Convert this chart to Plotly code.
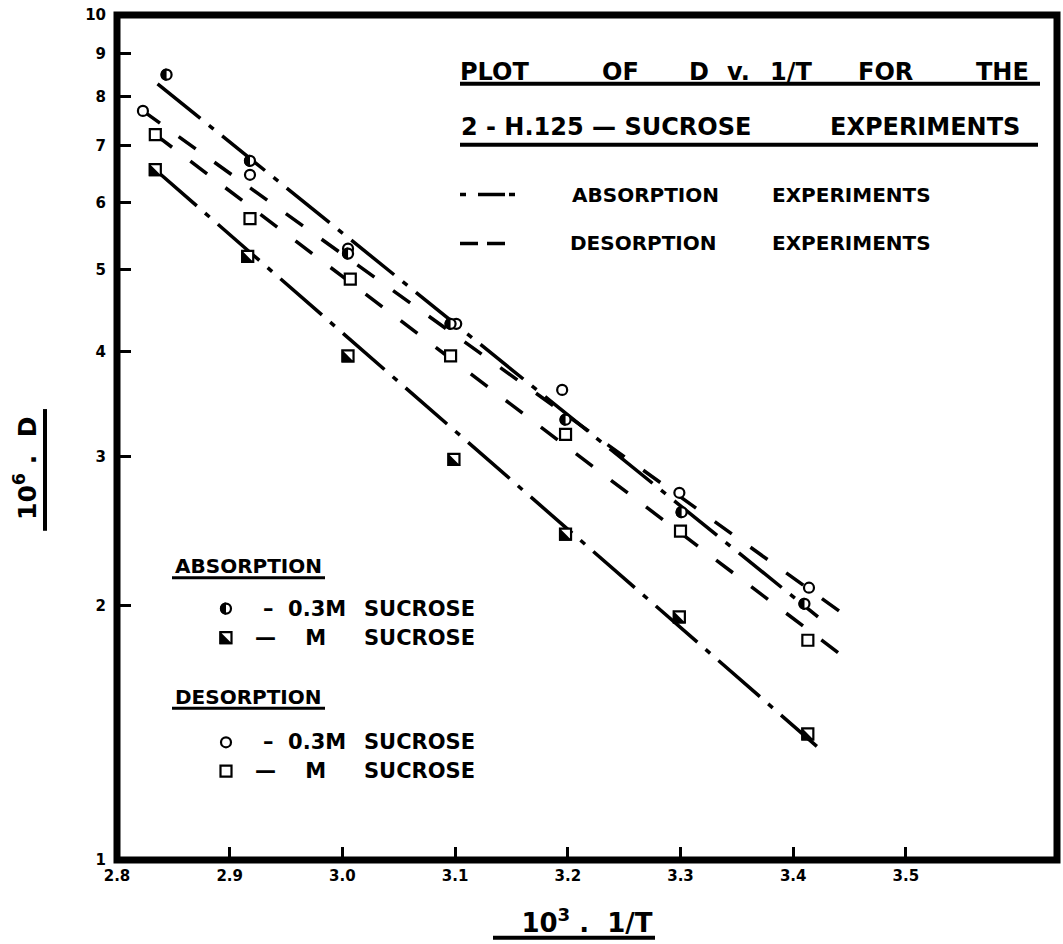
import plotly.graph_objects as go

# ---- measured values: x = 10^3 / T, y = 10^6 * D -------------------------
abs_03m_t = [2.844, 2.918, 3.005, 3.096, 3.198, 3.301, 3.410]
abs_03m_d = [8.50, 6.72, 5.22, 4.31, 3.32, 2.58, 2.01]

abs_1m_t = [2.834, 2.916, 3.005, 3.099, 3.198, 3.299, 3.413]
abs_1m_d = [6.56, 5.18, 3.95, 2.98, 2.43, 1.94, 1.41]

des_03m_t = [2.823, 2.918, 3.005, 3.101, 3.195, 3.299, 3.414]
des_03m_d = [7.70, 6.47, 5.29, 4.31, 3.60, 2.72, 2.10]

des_1m_t = [2.834, 2.918, 3.007, 3.096, 3.198, 3.300, 3.413]
des_1m_d = [7.22, 5.74, 4.87, 3.95, 3.19, 2.45, 1.82]

# ---- fitted straight lines (end points) ---------------------------------
fit_abs_03m_t = [2.836, 3.422]
fit_abs_03m_d = [8.29, 1.94]
fit_abs_1m_t = [2.834, 3.421]
fit_abs_1m_d = [6.56, 1.363]
fit_des_03m_t = [2.823, 3.448]
fit_des_03m_d = [7.70, 1.94]
fit_des_1m_t = [2.834, 3.441]
fit_des_1m_d = [7.22, 1.755]

# ---- axis ticks ----------------------------------------------------------
x_tick_vals = [2.8, 2.9, 3.0, 3.1, 3.2, 3.3, 3.4, 3.5]
x_tick_text = ["2.8", "2.9", "3.0", "3.1", "3.2", "3.3", "3.4", "3.5"]
y_tick_vals = [1, 2, 3, 4, 5, 6, 7, 8, 9, 10]
y_tick_text = ["1", "2", "3", "4", "5", "6", "7", "8", "9", "10"]

W, H = 1063, 944
L, R, T, B = 117, 1057, 13, 860
FONT = "DejaVu Sans"
INK = "black"

ABS_DASH = "55px,11px,6px,11px"
DES_DASH = "21px,23px"


def px(x):
    return (x - L) / (R - L)


def py(y):
    return (B - y) / (B - T)


def half_circle_path(r):
    k = 0.5523 * r
    return (f"M0,{r} C{-k},{r} {-r},{k} {-r},0 "
            f"C{-r},{-k} {-k},{-r} 0,{-r} Z")


def half_square_path(s):
    return f"M{-s},{s} L{-s},{-s} L{s},{-s} Z"


fig = go.Figure()

# fitted lines
for t, d, dash in [
    (fit_abs_03m_t, fit_abs_03m_d, ABS_DASH),
    (fit_abs_1m_t, fit_abs_1m_d, ABS_DASH),
    (fit_des_03m_t, fit_des_03m_d, DES_DASH),
    (fit_des_1m_t, fit_des_1m_d, DES_DASH),
]:
    fig.add_trace(go.Scatter(
        x=t, y=d, mode="lines",
        line=dict(color=INK, width=3.5, dash=dash),
        hoverinfo="skip", showlegend=False,
    ))

# point markers
for t, d, sym, size in [
    (des_03m_t, des_03m_d, "circle", 10),
    (abs_03m_t, abs_03m_d, "circle", 10),
    (des_1m_t, des_1m_d, "square", 11),
    (abs_1m_t, abs_1m_d, "square", 11),
]:
    fig.add_trace(go.Scatter(
        x=t, y=d, mode="markers",
        marker=dict(symbol=sym, size=size, color="white",
                    line=dict(color=INK, width=2.2)),
        showlegend=False,
    ))

shapes = []
# filled halves of the absorption markers
for t, d in zip(abs_03m_t, abs_03m_d):
    shapes.append(dict(type="path", xref="x", yref="y",
                       xsizemode="pixel", ysizemode="pixel",
                       xanchor=t, yanchor=d, path=half_circle_path(6.1),
                       fillcolor=INK, line=dict(width=0)))
for t, d in zip(abs_1m_t, abs_1m_d):
    shapes.append(dict(type="path", xref="x", yref="y",
                       xsizemode="pixel", ysizemode="pixel",
                       xanchor=t, yanchor=d, path=half_square_path(6.6),
                       fillcolor=INK, line=dict(width=0)))

# heavy frame round the plotting area
shapes.append(dict(type="rect", xref="paper", yref="paper",
                   x0=0, x1=1, y0=0, y1=1,
                   line=dict(color=INK, width=7), layer="above"))


def hline(x0, x1, y, width=4, dash="solid"):
    shapes.append(dict(type="line", xref="paper", yref="paper",
                       x0=px(x0), x1=px(x1), y0=py(y), y1=py(y),
                       line=dict(color=INK, width=width, dash=dash)))


def vline(x, y0, y1, width=4):
    shapes.append(dict(type="line", xref="paper", yref="paper",
                       x0=px(x), x1=px(x), y0=py(y0), y1=py(y1),
                       line=dict(color=INK, width=width)))


annotations = []


def text(s, x, y, size, angle=0, anchor="center"):
    annotations.append(dict(
        text=s, x=px(x), y=py(y), xref="paper", yref="paper",
        xanchor=anchor, yanchor="middle", showarrow=False,
        textangle=angle,
        font=dict(family=FONT, size=size, color=INK, weight="bold"),
    ))


# title block
for word, cx in [("PLOT", 494), ("OF", 620), ("D", 699), ("v.", 738),
                 ("1/T", 791), ("FOR", 885), ("THE", 1002)]:
    text(word, cx, 70, 24)
hline(460, 1040, 82)
text("2 - H.125 — SUCROSE", 606, 125, 24)
text("EXPERIMENTS", 925, 125, 24)
hline(460, 1038, 143)

# line-style key
hline(460, 515, 193, width=3.5, dash="6px,12px,27px,4px,6px")
text("ABSORPTION", 645, 193, 20)
text("EXPERIMENTS", 851, 193, 20)
hline(460, 505, 242, width=3.5, dash="18px,9px")
text("DESORPTION", 643, 242, 20)
text("EXPERIMENTS", 851, 242, 20)

# symbol key
text("ABSORPTION", 248, 565, 20)
hline(172, 325, 577, width=3)
text("DESORPTION", 248, 697, 20)
hline(172, 325, 708, width=3)


def key_symbol(kind, half, x, y):
    if kind == "circle":
        shapes.append(dict(type="circle", xref="paper", yref="paper",
                           xsizemode="pixel", ysizemode="pixel",
                           xanchor=px(x), yanchor=py(y),
                           x0=-5, x1=5, y0=-5, y1=5,
                           fillcolor="white", line=dict(color=INK, width=2.2)))
        if half:
            shapes.append(dict(type="path", xref="paper", yref="paper",
                               xsizemode="pixel", ysizemode="pixel",
                               xanchor=px(x), yanchor=py(y),
                               path=half_circle_path(6.1),
                               fillcolor=INK, line=dict(width=0)))
    else:
        shapes.append(dict(type="rect", xref="paper", yref="paper",
                           xsizemode="pixel", ysizemode="pixel",
                           xanchor=px(x), yanchor=py(y),
                           x0=-5.5, x1=5.5, y0=-5.5, y1=5.5,
                           fillcolor="white", line=dict(color=INK, width=2.2)))
        if half:
            shapes.append(dict(type="path", xref="paper", yref="paper",
                               xsizemode="pixel", ysizemode="pixel",
                               xanchor=px(x), yanchor=py(y),
                               path=half_square_path(6.6),
                               fillcolor=INK, line=dict(width=0)))


for kind, half, y, label, cx in [
    ("circle", True, 608, "–  0.3M", 304),
    ("square", True, 637, "—    M", 290),
    ("circle", False, 742, "–  0.3M", 304),
    ("square", False, 771, "—    M", 290),
]:
    key_symbol(kind, half, 226, y)
    text(label, cx, y, 21)
    text("SUCROSE", 419, y, 21)

# y-axis title, set a little below the axis centre, with its underline
text("10<sup>6</sup> .  D", 26, 468, 25, angle=-90)
vline(45, 408, 530)
# underline of the x-axis title
hline(493, 655, 938)

fig.update_layout(
    width=W, height=H,
    margin=dict(l=L, r=W - R, t=T, b=H - B),
    paper_bgcolor="white", plot_bgcolor="white",
    shapes=shapes, annotations=annotations,
    showlegend=False,
    xaxis=dict(
        range=[2.8, 2.8 + (R - L) / 1127.0],
        tickvals=x_tick_vals, ticktext=x_tick_text,
        ticks="inside", ticklen=13, tickwidth=2.5, tickcolor=INK,
        showgrid=False, zeroline=False, showline=False,
        tickfont=dict(family=FONT, size=15, color=INK, weight="bold"),
        ticklabelstandoff=5,
        title=dict(text="10<sup>3</sup> .  1/T",
                   font=dict(family=FONT, size=26, color=INK, weight="bold"),
                   standoff=29),
    ),
    yaxis=dict(
        type="log", range=[0, 1],
        tickvals=y_tick_vals, ticktext=y_tick_text,
        ticks="inside", ticklen=14, tickwidth=2.5, tickcolor=INK,
        showgrid=False, zeroline=False, showline=False,
        tickfont=dict(family=FONT, size=15, color=INK, weight="bold"),
        ticklabelstandoff=10,
    ),
)

fig.write_html("out.html")
